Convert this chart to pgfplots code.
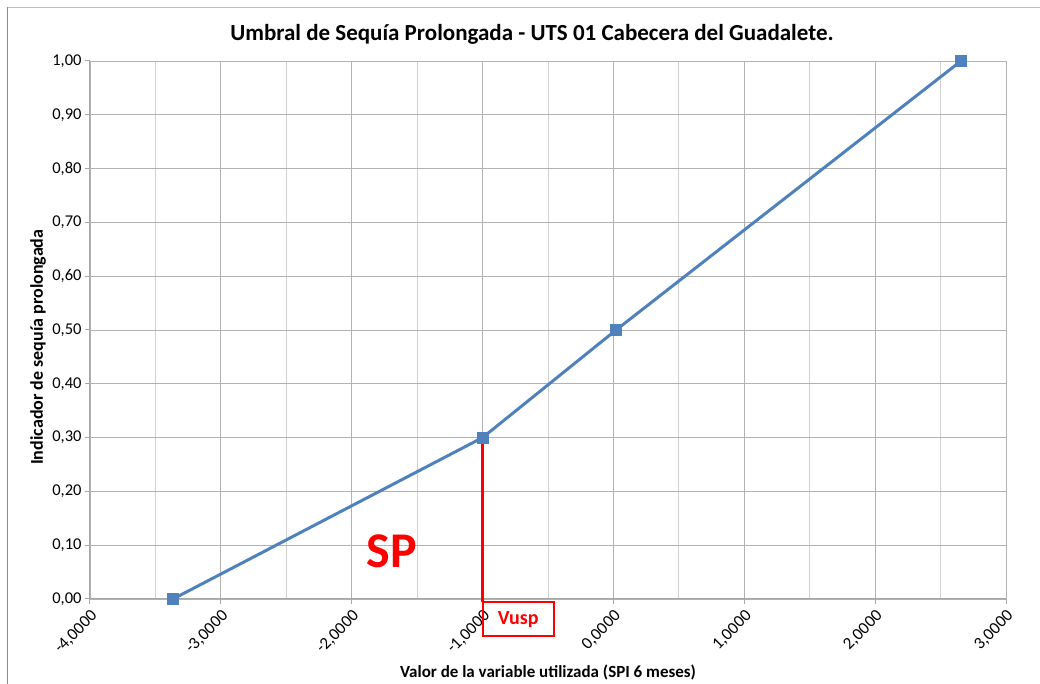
\documentclass[border=0pt]{standalone}
\usepackage{fontspec}
\setmainfont{Carlito}
\usepackage{pgfplots}
\pgfplotsset{compat=1.18}
\definecolor{serie}{HTML}{4F81BD}
\definecolor{rojo}{HTML}{FF0000}
\begin{document}
\begin{tikzpicture}
% caja del grafico: el eje empieza en (0,0), 90pt a la derecha y 85pt arriba del borde
\useasboundingbox (-90pt,-85pt) rectangle (950pt,599pt);
\draw[black!25, line width=1pt] (-82.5pt,591.5pt) -- (950pt,591.5pt);
\draw[black!45, line width=1.5pt] (-82.5pt,-85pt) -- (-82.5pt,592pt);
\begin{axis}[
    anchor=south west, at={(0pt,0pt)},
    scale only axis, width=916pt, height=538pt,
    xmin=-4, xmax=3, ymin=0, ymax=1,
    xtick={-4,-3,-2,-1,0,1,2,3},
    minor xtick={-3.5,-2.5,-1.5,-0.5,0.5,1.5,2.5},
    ytick={0,0.1,0.2,0.3,0.4,0.5,0.6,0.7,0.8,0.9,1},
    grid=both,
    major grid style={draw=black!30, line width=0.8pt},
    minor grid style={draw=black!18, line width=0.8pt},
    axis x line*=bottom, axis y line*=left,
    axis line style={draw=black!35, line width=1pt},
    tick align=outside, major tick length=5pt, minor tick length=0pt,
    tick style={draw=black!35, line width=1pt},
    /pgf/number format/assume math mode=true,
    xticklabel style={rotate=45, anchor=north east, font=\fontsize{17}{17}\selectfont,
        /pgf/number format/fixed, /pgf/number format/fixed zerofill,
        /pgf/number format/precision=4, /pgf/number format/use comma,
        /pgf/number format/1000 sep={}},
    yticklabel style={font=\fontsize{16.5}{16.5}\selectfont,
        /pgf/number format/fixed, /pgf/number format/fixed zerofill,
        /pgf/number format/precision=2, /pgf/number format/use comma},
    clip=false,
]
\addplot[rojo, line width=3pt] coordinates {(-1,0.3) (-1,-0.006)};
\addplot[serie, line width=3pt, mark=square*, mark size=5.5pt,
    mark options={fill=serie, draw=serie, line width=0pt}] coordinates {
    (-3.366,0) (-1,0.3) (0.02,0.5) (2.656,1)
};
\draw[rojo, line width=2pt] (axis cs:-1,-0.0056) rectangle (axis cs:-0.457,-0.0688);
\node[rojo, font=\bfseries\fontsize{20}{20}\selectfont] at (axis cs:-0.728,-0.038) {Vusp};
\node[rojo, font=\bfseries\fontsize{50}{50}\selectfont] at (axis cs:-1.692,0.0892) {SP};
\node[font=\bfseries\fontsize{23}{23}\selectfont] at (axis description cs:0.4825,1.050)
    {Umbral de Sequía Prolongada - UTS 01 Cabecera del Guadalete.};
\node[font=\bfseries\fontsize{17}{17}\selectfont] at (axis description cs:0.5,-0.1375)
    {Valor de la variable utilizada (SPI 6 meses)};
\node[font=\bfseries\fontsize{18}{18}\selectfont, rotate=90] at (axis description cs:-0.0568,0.468)
    {Indicador de sequía prolongada};
\end{axis}
\end{tikzpicture}
\end{document}
